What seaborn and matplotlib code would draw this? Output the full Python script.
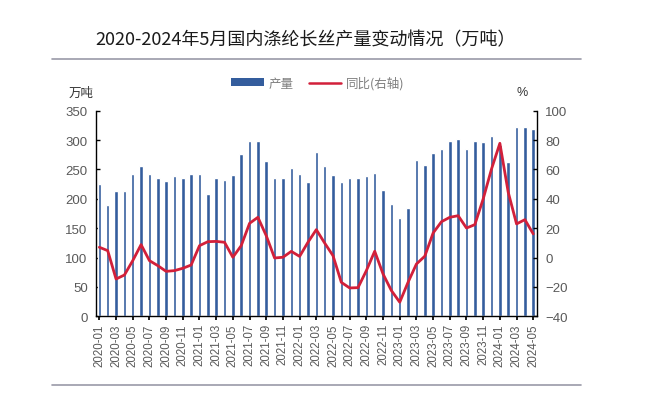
import numpy as np
import pandas as pd
import matplotlib
matplotlib.use("Agg")
import matplotlib.pyplot as plt
import seaborn as sns
from matplotlib.lines import Line2D
from matplotlib.patches import Patch

# ── Data ────────────────────────────────────────────────────────────────────
months = [p.strftime("%Y-%m") for p in pd.period_range("2020-01", "2024-05", freq="M")]

output = [
    226, 190, 213, 213, 243, 255, 243, 235, 230, 238, 236, 243,   # 2020
    242, 209, 235, 232, 240, 276, 298, 298, 264, 236, 236, 252,   # 2021
    243, 229, 280, 255, 241, 229, 235, 235, 238, 244, 215, 192,   # 2022
    167, 184, 266, 258, 278, 284, 298, 301, 285, 298, 296, 307,   # 2023
    292, 262, 323, 323, 319,                                      # 2024
]
yoy = [
    7.0, 4.7, -14.6, -11.9, -2.1, 8.8, -2.1, -5.5, -9.4, -8.9, -7.3, -5.1,
    8.1, 10.8, 11.0, 10.4, 0.2, 8.1, 23.3, 27.4, 14.9, -0.3, 0.2, 4.2,
    0.8, 10.4, 19.0, 9.9, 1.3, -16.9, -20.7, -20.5, -8.9, 4.3, -11.2, -22.5,
    -30.4, -16.8, -4.4, 0.9, 16.7, 24.4, 27.4, 28.5, 20.1, 22.4, 39.9, 60.3,
    77.8, 44.5, 22.9, 25.8, 16.1,
]

BAR_COLOR  = "#345D9D"
LINE_COLOR = "#D2203A"
GRAY       = "#595959"

df = pd.DataFrame({"month": months, "output": output, "yoy": yoy})
df["pos"] = np.arange(len(df))

# ── Style ───────────────────────────────────────────────────────────────────
sns.set_theme(style="white")
plt.rcParams["font.family"] = ["Liberation Sans", "Noto Sans CJK SC", "DejaVu Sans"]
cjk = ["Noto Sans CJK SC", "DejaVu Sans"]

fig = plt.figure(figsize=(6.6, 4.06), dpi=100)
ax = fig.add_axes([0.1455, 0.2185, 0.668, 0.5064])

sns.barplot(data=df, x="month", y="output", color=BAR_COLOR, width=0.42,
            saturation=1, ax=ax)
ax.set_ylim(0, 350)
ax.set_yticks(np.arange(0, 351, 50))
ax.set_xlim(-0.4, len(df) - 0.56)
ax.set_xticks(df["pos"][::2])
ax.set_xticklabels(df["month"][::2], rotation=90, fontsize=8.3, color=GRAY)
ax.tick_params(axis="y", labelsize=9.5, labelcolor=GRAY, direction="in",
               length=3, left=True, width=1, color="black", pad=6)
ax.tick_params(axis="x", direction="out", length=3, bottom=True, color="black",
               pad=2)
ax.set_xlabel("")
ax.set_ylabel("")

ax2 = ax.twinx()
sns.lineplot(data=df, x="pos", y="yoy", color=LINE_COLOR, linewidth=2, ax=ax2)
ax2.set_ylim(-40, 100)
ax2.set_yticks(np.arange(-40, 101, 20))
ax2.tick_params(axis="y", labelsize=9.5, labelcolor=GRAY, direction="in",
                length=3, right=True, width=1, color="black", pad=6)
ax2.set_ylabel("")
ax2.set_xlabel("")

for a in (ax, ax2):
    a.spines["top"].set_visible(False)
    for s in ("left", "right", "bottom"):
        a.spines[s].set_color("black")
        a.spines[s].set_linewidth(1)
ax.spines["right"].set_visible(False)
ax2.spines["left"].set_visible(False)
ax2.spines["bottom"].set_visible(False)

# ── Text, legend, rules ─────────────────────────────────────────────────────
fig.text(306 / 660, 1 - 40 / 406, "2020-2024年5月国内涤纶长丝产量变动情况（万吨）",
         ha="center", va="center", fontsize=13, family=cjk, color="#1a1a1a")
fig.add_artist(Line2D([52 / 660, 581 / 660], [1 - 60 / 406] * 2,
                      color="#9a9aa8", linewidth=1.2))
fig.add_artist(Line2D([52 / 660, 581 / 660], [1 - 386 / 406] * 2,
                      color="#9a9aa8", linewidth=1.2))
fig.text(81 / 660, 1 - 93 / 406, "万吨", ha="center", va="center",
         fontsize=9, family=cjk, color="#333333")
fig.text(522 / 660, 1 - 93 / 406, "%", ha="center", va="center",
         fontsize=9, color="#333333")

handles = [Patch(facecolor=BAR_COLOR, edgecolor="none"),
           Line2D([0], [0], color=LINE_COLOR, linewidth=1.8)]
leg = fig.legend(handles, ["产量", "同比(右轴)"], loc="center",
                 bbox_to_anchor=(318 / 660, 1 - 84 / 406), ncol=2, frameon=False,
                 prop={"family": cjk, "size": 9}, handlelength=2.6,
                 handleheight=0.6, columnspacing=1.2, handletextpad=0.4)
for t in leg.get_texts():
    t.set_color("#7f7f7f")

fig.savefig("out.png", dpi=100)
